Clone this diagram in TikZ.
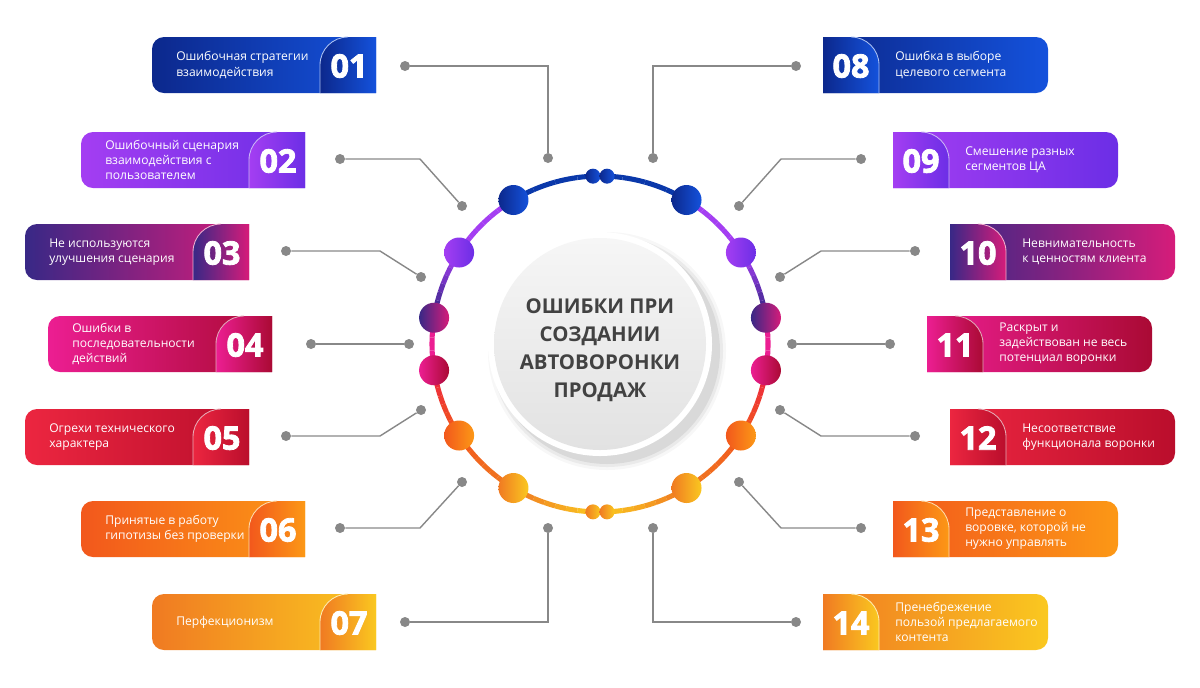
\documentclass[tikz,border=0pt]{standalone}
\usepackage{fontspec}
\setmainfont{Open Sans}
\newfontfamily\heavyfont[FakeBold=2.5]{Open Sans}
\usepackage{tikz}
\usetikzlibrary{positioning}
\definecolor{NavyA}{RGB}{12,40,140}
\definecolor{NavyB}{RGB}{20,82,220}
\definecolor{PurpleA}{RGB}{164,62,242}
\definecolor{PurpleB}{RGB}{108,46,230}
\definecolor{IndigoA}{RGB}{56,40,134}
\definecolor{MagentaB}{RGB}{214,28,122}
\definecolor{MagentaA}{RGB}{236,30,146}
\definecolor{CrimsonB}{RGB}{170,10,52}
\definecolor{RedA}{RGB}{236,38,64}
\definecolor{RedB}{RGB}{186,14,44}
\definecolor{OrangeA}{RGB}{242,88,28}
\definecolor{OrangeB}{RGB}{252,152,22}
\definecolor{AmberA}{RGB}{240,122,34}
\definecolor{YellowB}{RGB}{250,200,32}
\definecolor{RingBlue}{RGB}{10,56,170}
\definecolor{LineGray}{RGB}{136,136,136}
\definecolor{TitleGray}{RGB}{66,66,66}
\definecolor{DiscLight}{RGB}{246,246,246}
\definecolor{DiscDark}{RGB}{226,226,226}

\begin{document}
\begin{tikzpicture}[x=0.025cm, y=0.025cm,
  boxtext/.style={text=white, font=\fontsize{8.6}{10.7}\selectfont, align=left, inner sep=0pt, anchor=west},
  numtext/.style={text=white, font=\heavyfont\bfseries\fontsize{23}{23}\selectfont, inner sep=0pt},
  edge/.style={line width=0.6pt},
  ring/.style={line width=3.6pt},
  ringdot/.style={circle, inner sep=0pt, minimum size=0.75cm},
  twin/.style={circle, inner sep=0pt, minimum size=0.375cm},
  pin/.style={circle, fill=LineGray, inner sep=0pt, minimum size=0.25cm},
  link/.style={LineGray, line width=1pt}]
\useasboundingbox (0,0) rectangle (1200,-687);

% Ring, in short arcs so the colour can run along it
\begin{scope}[shift={(600,-344)}]
\foreach \a/\b/\ca/\cb in {59/121/RingBlue/RingBlue, 121/147/PurpleA/PurpleA,
    147/171/PurpleA/IndigoA, 171/189/MagentaA/MagentaA, 189/213/RedA/OrangeA,
    213/239/OrangeA/AmberA, 239/270/AmberA/YellowB, 270/301/YellowB/AmberA,
    301/327/AmberA/OrangeA, 327/351/OrangeA/RedA, 351/369/MagentaA/MagentaA,
    9/33/IndigoA/PurpleA, 33/59/PurpleA/PurpleA}{
  \foreach \i in {0,...,7}{
    \pgfmathsetmacro\s{\a+(\b-\a)*\i/8}
    \pgfmathsetmacro\e{\a+(\b-\a)*(\i+1)/8}
    \pgfmathtruncatemacro\p{100-\i*100/7}
    \draw[ring, \ca!\p!\cb] (\s:168) arc (\s:\e:168);
  }
}

% Dots on the ring
\foreach \ang/\ca/\cb [count=\i] in {121/NavyA/NavyB, 147/PurpleA/PurpleB,
    171/IndigoA/MagentaB, 189/MagentaA/CrimsonB, 213/OrangeA/OrangeB,
    239/AmberA/YellowB, 59/NavyA/NavyB, 33/PurpleA/PurpleB, 9/IndigoA/MagentaB,
    -9/MagentaA/CrimsonB, -33/OrangeA/OrangeB, -59/AmberA/YellowB}{
  \node[ringdot, left color=\ca, right color=\cb] (d\i) at (\ang:168) {};
}
\node[twin, left color=NavyA, right color=NavyB] (s1) at (92.4:168) {};
\node[twin, left color=NavyA, right color=NavyB] (s2) at (87.6:168) {};
\node[twin, left color=AmberA, right color=YellowB] (s3) at (-92.4:168) {};
\node[twin, left color=AmberA, right color=YellowB] (s4) at (-87.6:168) {};
\end{scope}

% Centre disc with its shadow
\foreach \r/\o in {119/0.03, 116/0.05, 113/0.07}
  \fill[black, opacity=\o] (607,-351) circle (\r);
\fill[white] (600,-344) circle (112);
\shade[top color=DiscLight, bottom color=DiscDark] (600,-344) circle (106);
\node[text=TitleGray, font=\bfseries\fontsize{14.5}{20}\selectfont, align=center]
  (title) at (600,-350) {ОШИБКИ ПРИ\\СОЗДАНИИ\\АВТОВОРОНКИ\\ПРОДАЖ};

% Connectors: pin at the box, knee, pin at the ring
\foreach \n/\ex/\ey/\kx/\ky/\fx/\fy in {01/405/66/548/66/548/158,
    02/340/159/420/159/462/206, 03/286/251/380/251/421/277,
    04/311/344/360/344/409/344, 05/286/436/380/436/421/410,
    06/340/528/420/528/462/482, 07/405/622/548/622/548/528,
    08/796/66/653/66/653/158, 09/861/159/781/159/739/206,
    10/915/251/821/251/780/277, 11/890/344/841/344/792/344,
    12/915/436/821/436/780/410, 13/861/528/781/528/739/482,
    14/796/622/653/622/653/528}{
  \node[pin] (e\n) at (\ex,-\ey) {};
  \node[pin] (f\n) at (\fx,-\fy) {};
  \coordinate (k\n) at (\kx,-\ky);
  \draw[link] (e\n) -- (k\n) -- (f\n);
}

% Left boxes: {number, left, top, colours, text}
\foreach \n/\L/\T/\ca/\cb/\txt in {
    01/152/37/NavyA/NavyB/{Ошибочная стратегии\\взаимодействия},
    02/81/132/PurpleA/PurpleB/{Ошибочный сценария\\взаимодействия с\\пользователем},
    03/25/224/IndigoA/MagentaB/{Не используются\\улучшения сценария},
    04/48/316/MagentaA/CrimsonB/{Ошибки в\\последовательности\\действий},
    05/25/409/RedA/RedB/{Огрехи технического\\характера},
    06/81/501/OrangeA/OrangeB/{Принятые в работу\\гипотизы без проверки},
    07/152/594/AmberA/YellowB/{Перфекционизм}}{
  \shade[left color=\ca, right color=\cb] ({\L+224},-\T) -- ({\L+12},-\T)
    arc (90:180:12) -- (\L,{-\T-44}) arc (180:270:12) -- ({\L+224},{-\T-56}) -- cycle;
  \shade[left color=\ca, right color=\cb] ({\L+224},-\T) -- ({\L+196},-\T)
    arc (90:180:28) -- ({\L+168},{-\T-56}) -- ({\L+224},{-\T-56}) -- cycle;
  \draw[edge, \cb!35!white] ({\L+196},-\T) arc (90:180:28) -- ({\L+168},{-\T-56});
  \node[boxtext] (t\n) at ({\L+24},{-\T-28}) {\txt};
  \node[numtext] (n\n) at ({\L+197},{-\T-29}) {\n};
}

% Right boxes
\foreach \n/\L/\T/\ca/\cb/\txt in {
    08/823/37/NavyA/NavyB/{Ошибка в выборе\\целевого сегмента},
    09/893/132/PurpleA/PurpleB/{Смешение разных\\сегментов ЦА},
    10/950/224/IndigoA/MagentaB/{Невнимательность\\к ценностям клиента},
    11/927/316/MagentaA/CrimsonB/{Раскрыт и\\задействован не весь\\потенциал воронки},
    12/950/409/RedA/RedB/{Несоответствие\\функционала воронки},
    13/893/501/OrangeA/OrangeB/{Представление о\\воровке, которой не\\нужно управлять},
    14/823/594/AmberA/YellowB/{Пренебрежение\\пользой предлагаемого\\контента}}{
  \shade[left color=\ca, right color=\cb] (\L,-\T) -- ({\L+213},-\T)
    arc (90:0:12) -- ({\L+225},{-\T-44}) arc (0:-90:12) -- (\L,{-\T-56}) -- cycle;
  \shade[left color=\ca, right color=\cb] (\L,-\T) -- ({\L+28},-\T)
    arc (90:0:28) -- ({\L+56},{-\T-56}) -- (\L,{-\T-56}) -- cycle;
  \draw[edge, \cb!35!white] ({\L+28},-\T) arc (90:0:28) -- ({\L+56},{-\T-56});
  \node[boxtext] (t\n) at ({\L+72},{-\T-28}) {\txt};
  \node[numtext] (n\n) at ({\L+28},{-\T-29}) {\n};
}
\end{tikzpicture}
\end{document}
